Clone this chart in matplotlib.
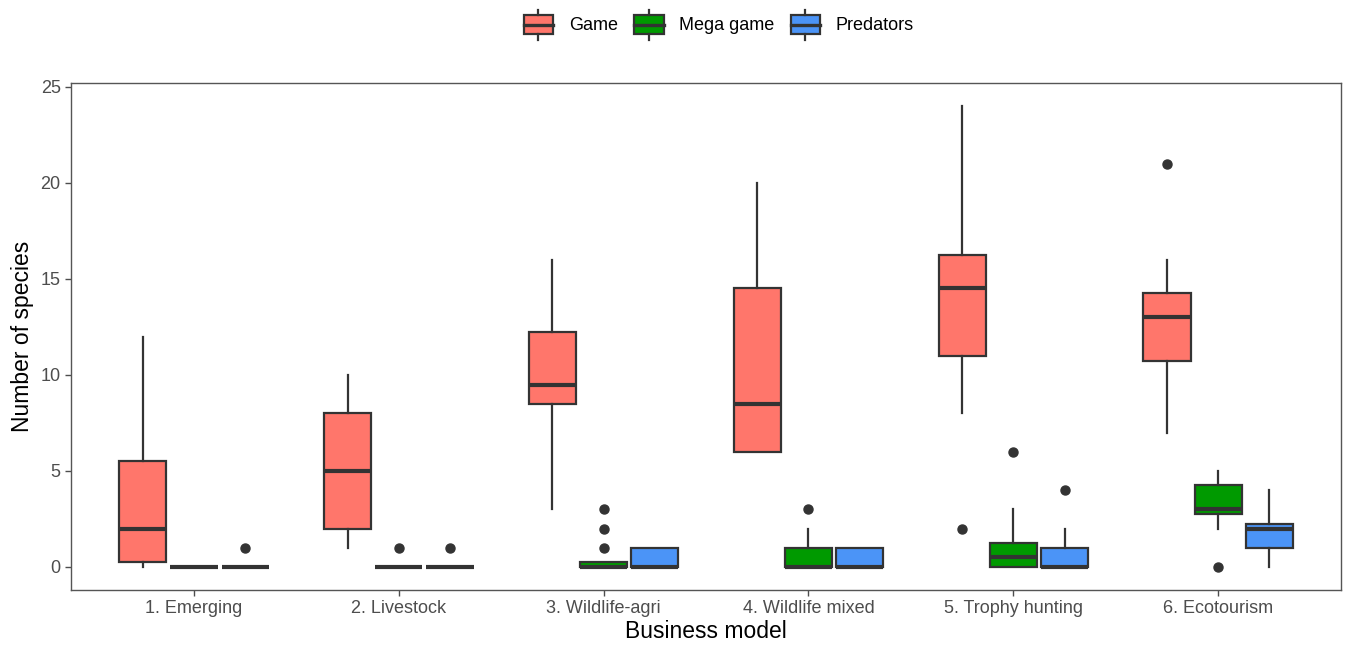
import numpy as np
import matplotlib.pyplot as plt
from matplotlib.patches import Rectangle
from matplotlib.lines import Line2D
from matplotlib.legend_handler import HandlerBase

plt.rcParams['font.family'] = ['Liberation Sans', 'DejaVu Sans']

# business models on the x axis
models = ["1. Emerging", "2. Livestock", "3. Wildlife-agri",
          "4. Wildlife mixed", "5. Trophy hunting", "6. Ecotourism"]
groups = ["Game", "Mega game", "Predators"]
colors = ["#FF766B", "#009A00", "#4B94F7"]

# box summaries per model: (low whisker, Q1, median, Q3, high whisker)
game = [(0, 0.25, 2, 5.5, 12), (1, 2, 5, 8, 10), (3, 8.5, 9.5, 12.25, 16),
        (6, 6, 8.5, 14.5, 20), (8, 11, 14.5, 16.25, 24), (7, 10.75, 13, 14.25, 16)]
mega = [(0, 0, 0, 0, 0), (0, 0, 0, 0, 0), (0, 0, 0, 0.25, 0.25),
        (0, 0, 0, 1, 2), (0, 0, 0.5, 1.25, 3), (2, 2.75, 3, 4.25, 5)]
pred = [(0, 0, 0, 0, 0), (0, 0, 0, 0, 0), (0, 0, 0, 1, 1),
        (0, 0, 0, 1, 1), (0, 0, 0, 1, 2), (0, 1, 2, 2.25, 4)]

# outlying points
game_out = [[], [], [], [], [2], [21]]
mega_out = [[], [1], [1, 2, 3], [3], [6], [0]]
pred_out = [[1], [1], [], [], [4], []]

series = [(game, game_out), (mega, mega_out), (pred, pred_out)]

edge = "#333333"
fig, ax = plt.subplots(figsize=(13.56, 6.51), dpi=100)
fig.subplots_adjust(left=0.0524, right=0.989, top=0.8725, bottom=0.0937)

for j, (summ, outs) in enumerate(series):
    stats = []
    for (lo, q1, med, q3, hi), fl in zip(summ, outs):
        stats.append(dict(whislo=lo, q1=q1, med=med, q3=q3, whishi=hi, fliers=fl))
    pos = np.arange(1, len(models) + 1) + (j - 1) * 0.25
    ax.bxp(stats, positions=pos, widths=0.23, patch_artist=True,
           showcaps=False, manage_ticks=False,
           boxprops=dict(facecolor=colors[j], edgecolor=edge, linewidth=1.6),
           whiskerprops=dict(color=edge, linewidth=1.6),
           medianprops=dict(color=edge, linewidth=3.0, solid_capstyle="butt"),
           flierprops=dict(marker="o", markerfacecolor=edge, markeredgecolor=edge,
                           markersize=6.5))

ax.set_xlim(0.4, 6.6)
ax.set_ylim(-1.2, 25.2)
ax.set_xticks(np.arange(1, len(models) + 1))
ax.set_xticklabels(models)
ax.set_yticks([0, 5, 10, 15, 20, 25])
ax.tick_params(colors="#4D4D4D", labelsize=13, length=4, width=1, direction="out")
for s in ax.spines.values():
    s.set_color("#555555")
    s.set_linewidth(1)
ax.set_xlabel("Business model", fontsize=16.5, labelpad=2)
ax.set_ylabel("Number of species", fontsize=16.5, labelpad=5)


class BoxKey(HandlerBase):
    # draws a small boxplot glyph as legend key
    def create_artists(self, legend, orig_handle, xdescent, ydescent,
                       width, height, fontsize, trans):
        x0, y0 = -xdescent, -ydescent
        b0, b1 = y0 + height * 0.19, y0 + height * 0.81
        xm = x0 + width / 2
        rect = Rectangle((x0, b0), width, b1 - b0, facecolor=orig_handle.get_facecolor(),
                         edgecolor=edge, linewidth=1.6, transform=trans)
        med = Line2D([x0, x0 + width], [(b0 + b1) / 2] * 2, color=edge, lw=2.4, transform=trans)
        w1 = Line2D([xm, xm], [y0, b0], color=edge, lw=1.6, transform=trans)
        w2 = Line2D([xm, xm], [b1, y0 + height], color=edge, lw=1.6, transform=trans)
        return [rect, med, w1, w2]


handles = [Rectangle((0, 0), 1, 1, facecolor=c) for c in colors]
fig.legend(handles, groups, handler_map={Rectangle: BoxKey()}, loc="center",
           bbox_to_anchor=(0.53, 0.962), ncol=3, frameon=False, fontsize=13,
           handlelength=1.65, handleheight=2.2, handletextpad=0.85, columnspacing=0.9)

fig.savefig("out.png", dpi=100)
